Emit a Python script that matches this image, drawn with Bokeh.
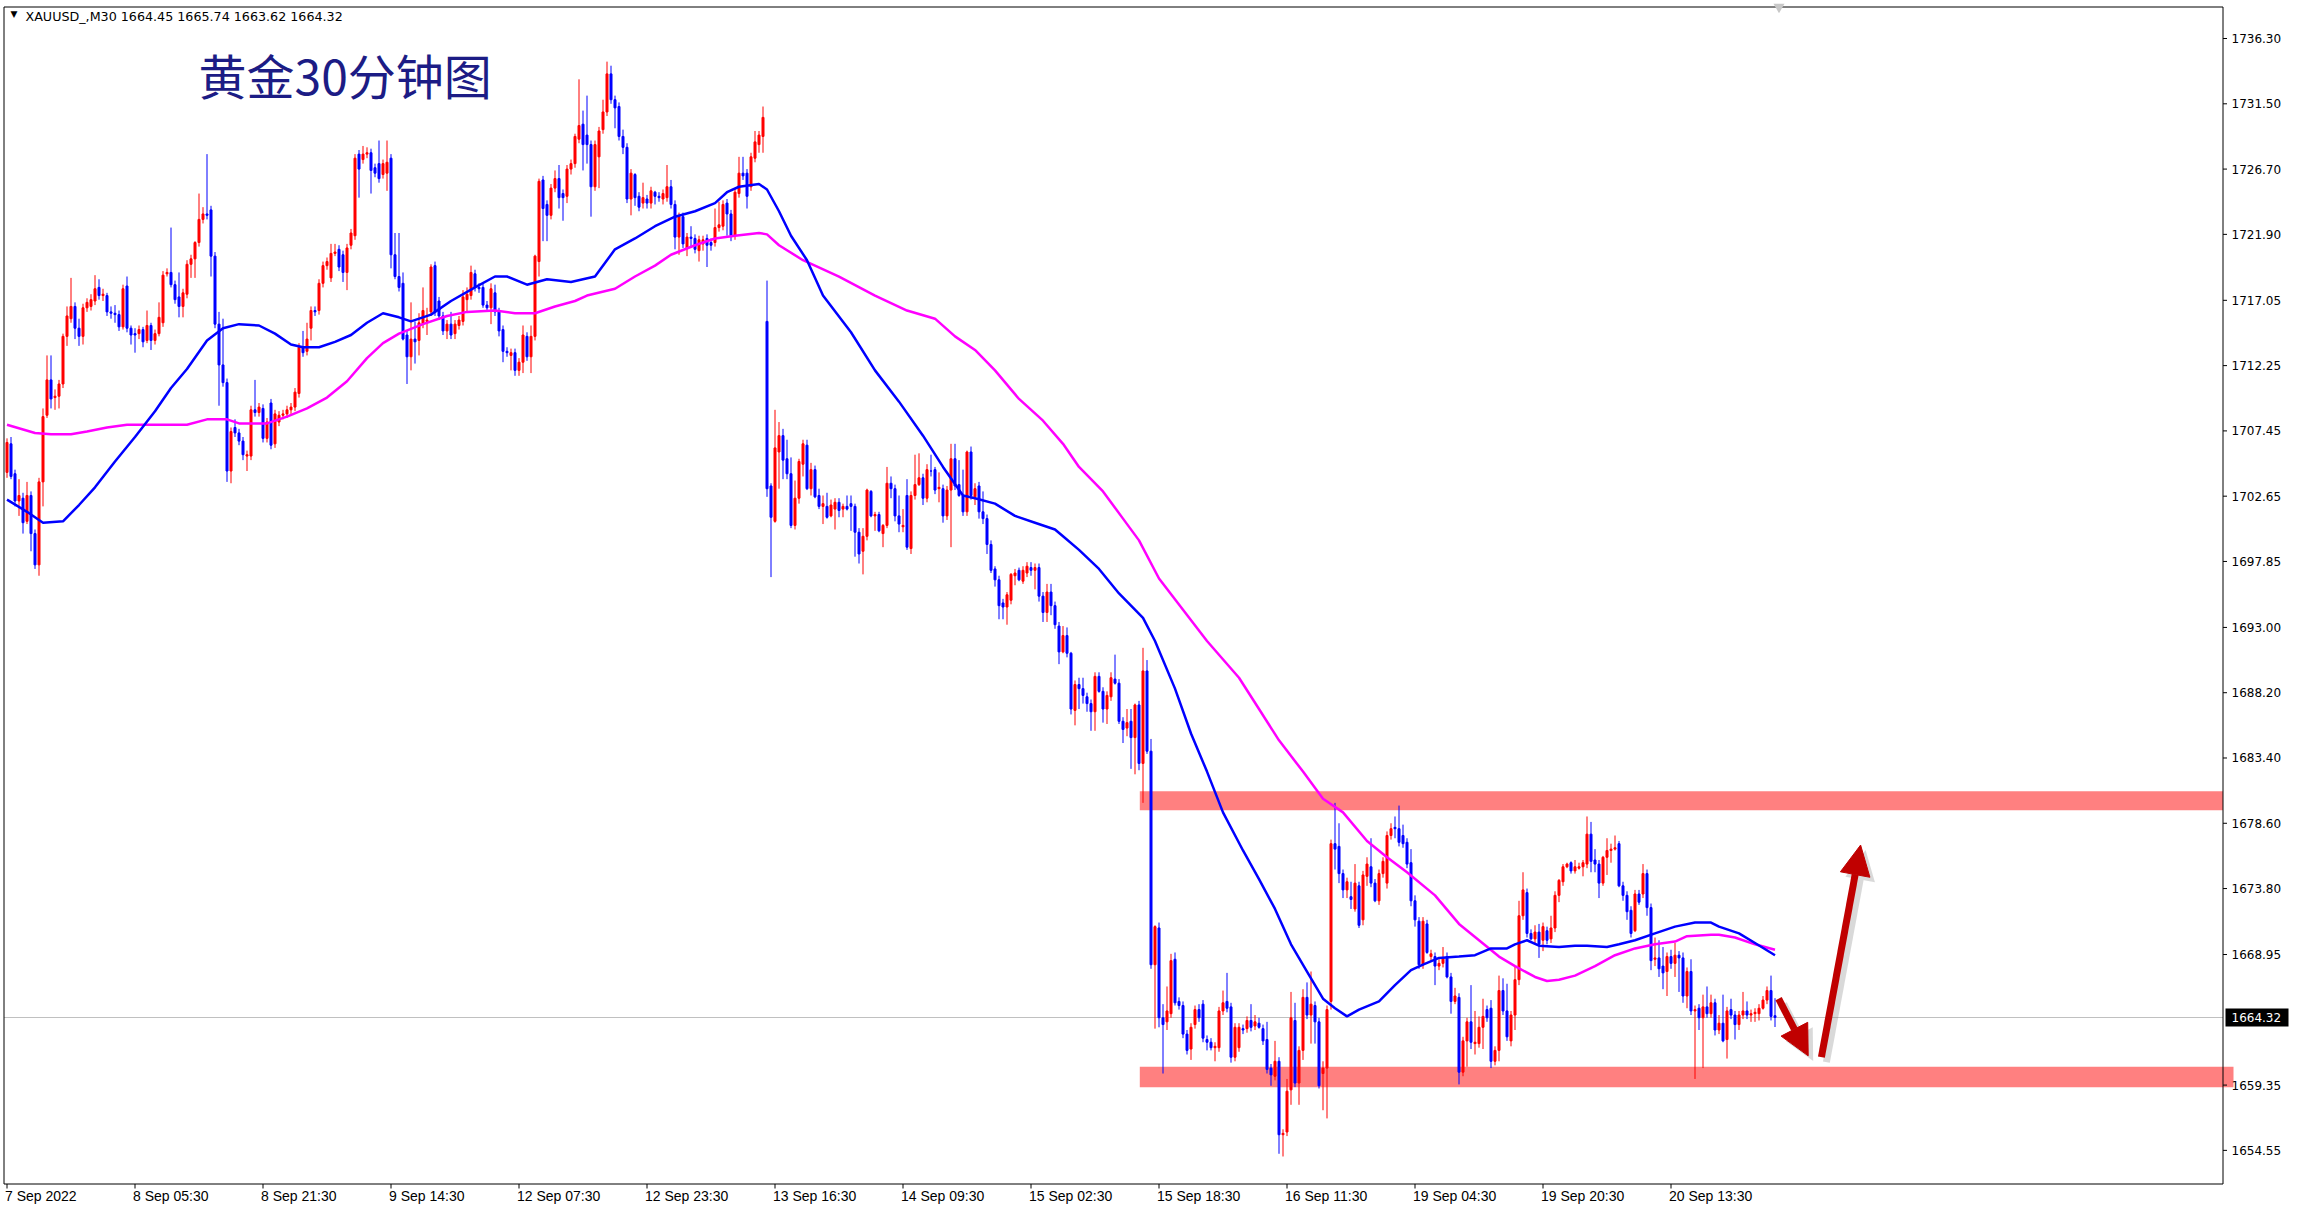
from bokeh.plotting import figure
from bokeh.models import Range1d, Label, Arrow, NormalHead, ColumnDataSource
from bokeh.core.properties import value
from bokeh.embed import file_html
from bokeh.resources import INLINE

symbol = "XAUUSD_,M30"
title_text = "黄金30分钟图"

opens = [
    1704.4, 1706.5, 1704.3, 1702.3, 1702.5, 1700.8, 1702.7, 1699.9, 1697.6, 1703.7,
    1708.6, 1711.2, 1709.9, 1710.0, 1710.9, 1714.4, 1715.7, 1716.6, 1715.0, 1714.4,
    1716.5, 1716.6, 1717.0, 1718.0, 1717.4, 1717.4, 1716.2, 1716.1, 1716.0, 1715.1,
    1718.1, 1715.0, 1714.6, 1714.6, 1714.9, 1714.1, 1715.2, 1714.1, 1714.6, 1715.4,
    1719.0, 1719.1, 1718.2, 1717.3, 1716.6, 1717.5, 1719.7, 1720.1, 1721.3, 1723.0,
    1723.4, 1723.7, 1720.3, 1715.3, 1712.3, 1711.0, 1704.5, 1707.7, 1707.3, 1706.7,
    1705.6, 1705.6, 1709.0, 1708.8, 1709.1, 1706.9, 1709.5, 1706.5, 1708.1, 1708.6,
    1708.7, 1709.0, 1709.2, 1710.2, 1713.6, 1713.3, 1715.0, 1716.3, 1716.3, 1718.3,
    1719.6, 1718.7, 1720.5, 1720.8, 1720.4, 1719.1, 1721.1, 1721.8, 1727.8, 1727.4,
    1727.8, 1727.9, 1726.8, 1727.1, 1726.3, 1726.4, 1727.5, 1720.4, 1718.8, 1718.3,
    1714.5, 1712.9, 1714.2, 1714.1, 1715.3, 1715.5, 1716.2, 1719.6, 1717.0, 1715.9,
    1714.8, 1715.3, 1714.6, 1715.2, 1715.5, 1717.1, 1717.4, 1719.0, 1718.0, 1718.0,
    1716.7, 1716.5, 1717.6, 1716.2, 1714.9, 1713.3, 1713.0, 1713.2, 1711.9, 1712.5,
    1714.4, 1712.9, 1714.4, 1719.9, 1725.9, 1724.1, 1723.3, 1725.3, 1726.0, 1724.9,
    1724.7, 1726.7, 1727.1, 1728.9, 1730.0, 1729.2, 1728.5, 1725.4, 1727.6, 1729.6,
    1730.9, 1733.7, 1731.8, 1731.3, 1729.1, 1728.3, 1724.5, 1726.3, 1724.7, 1724.2,
    1724.5, 1724.2, 1725.0, 1724.7, 1724.5, 1724.6, 1725.4, 1724.1, 1721.7, 1723.2,
    1720.9, 1721.7, 1721.6, 1720.7, 1721.2, 1721.6, 1721.3, 1721.3, 1722.4, 1722.5,
    1724.2, 1723.4, 1721.8, 1724.9, 1726.4, 1726.4, 1725.4, 1727.5, 1728.5, 1729.1,
    1715.5, 1703.4, 1700.8, 1705.9, 1707.1, 1705.4, 1704.3, 1700.5, 1702.5, 1705.0,
    1706.4, 1703.2, 1704.6, 1702.7, 1701.9, 1701.9, 1701.2, 1701.7, 1702.2, 1701.7,
    1701.9, 1702.1, 1701.9, 1700.0, 1698.6, 1699.7, 1703.0, 1701.2, 1701.3, 1699.9,
    1700.5, 1703.6, 1703.2, 1701.2, 1700.4, 1702.7, 1698.8, 1702.7, 1703.5, 1704.0,
    1702.5, 1704.5, 1704.6, 1703.2, 1703.2, 1701.2, 1703.1, 1705.4, 1703.5, 1702.7,
    1701.5, 1705.9, 1702.6, 1703.4, 1701.5, 1701.0, 1699.1, 1697.3, 1696.5, 1694.8,
    1694.5, 1695.0, 1696.8, 1697.2, 1696.4, 1697.0, 1697.4, 1697.2, 1697.4, 1695.3,
    1694.1, 1695.6, 1694.6, 1693.1, 1691.2, 1692.4, 1691.1, 1686.9, 1688.8, 1688.5,
    1687.9, 1687.4, 1686.8, 1689.4, 1688.3, 1687.0, 1687.9, 1689.2, 1688.9, 1686.1,
    1685.6, 1686.1, 1684.9, 1687.3, 1683.0, 1689.8, 1683.9, 1668.2, 1670.9, 1664.3,
    1664.0, 1664.6, 1668.6, 1665.5, 1665.2, 1663.1, 1662.0, 1663.8, 1664.9, 1665.3,
    1662.7, 1662.5, 1662.1, 1662.1, 1664.8, 1665.5, 1665.1, 1661.4, 1662.1, 1663.5,
    1663.5, 1664.1, 1663.7, 1663.9, 1663.5, 1662.7, 1660.6, 1660.0, 1661.1, 1655.7,
    1655.9, 1659.0, 1664.1, 1659.5, 1661.9, 1665.8, 1664.5, 1665.2, 1664.0, 1660.2,
    1660.6, 1665.5, 1677.1, 1676.9, 1674.9, 1673.7, 1673.2, 1672.3, 1674.0, 1671.5,
    1674.7, 1675.4, 1674.2, 1672.9, 1674.9, 1674.2, 1677.7, 1678.3, 1678.2, 1677.7,
    1677.2, 1675.7, 1672.9, 1671.4, 1668.2, 1671.2, 1668.8, 1668.8, 1668.1, 1668.3,
    1668.8, 1667.3, 1665.5, 1665.8, 1660.3, 1662.6, 1664.0, 1662.4, 1662.4, 1663.6,
    1664.9, 1665.0, 1661.1, 1661.9, 1666.3, 1664.8, 1662.6, 1664.5, 1667.1, 1671.8,
    1673.5, 1670.5, 1670.1, 1670.6, 1670.0, 1670.7, 1670.1, 1670.9, 1673.3, 1674.3,
    1675.4, 1675.7, 1675.1, 1675.3, 1675.4, 1675.6, 1677.8, 1675.9, 1675.6, 1674.2,
    1676.1, 1676.6, 1676.7, 1677.1, 1674.0, 1673.3, 1672.2, 1670.7, 1673.4, 1673.4,
    1674.9, 1672.4, 1668.6, 1668.7, 1668.1, 1667.7, 1668.8, 1668.3, 1668.9, 1668.7,
    1665.9, 1667.7, 1664.8, 1665.0, 1664.3, 1665.1, 1664.6, 1665.4, 1663.4, 1663.9,
    1662.7, 1664.9, 1664.5, 1663.8, 1664.5, 1664.8, 1664.5, 1664.6, 1664.6, 1665.0,
    1665.6, 1666.3, 1664.45,
]

highs = [
    1706.9, 1707.0, 1704.6, 1703.9, 1702.9, 1703.7, 1703.0, 1700.2, 1704.0, 1709.1,
    1713.0, 1713.0, 1710.5, 1711.2, 1714.6, 1716.6, 1718.7, 1716.9, 1715.7, 1716.8,
    1717.2, 1717.5, 1718.9, 1718.6, 1717.9, 1717.6, 1716.6, 1716.7, 1716.3, 1718.2,
    1718.8, 1715.2, 1715.0, 1715.2, 1715.1, 1716.3, 1715.4, 1714.9, 1716.9, 1719.2,
    1719.4, 1722.4, 1718.5, 1719.1, 1717.9, 1720.0, 1720.4, 1721.4, 1724.9, 1723.9,
    1727.8, 1724.0, 1720.6, 1716.2, 1715.7, 1711.3, 1707.7, 1708.3, 1707.6, 1707.0,
    1706.0, 1709.3, 1711.2, 1709.5, 1709.4, 1708.4, 1709.8, 1709.0, 1708.9, 1709.0,
    1709.3, 1709.5, 1710.6, 1713.9, 1714.8, 1715.4, 1716.6, 1716.6, 1718.6, 1719.9,
    1720.2, 1721.2, 1721.2, 1721.1, 1720.7, 1721.2, 1722.3, 1727.8, 1728.1, 1728.4,
    1728.3, 1728.2, 1727.1, 1728.8, 1727.4, 1728.8, 1727.8, 1722.0, 1722.0, 1719.1,
    1714.8, 1716.9, 1715.5, 1716.1, 1718.0, 1716.5, 1719.7, 1719.9, 1717.3, 1716.2,
    1715.6, 1716.2, 1715.6, 1715.9, 1717.8, 1718.0, 1719.6, 1719.3, 1718.3, 1718.3,
    1717.0, 1718.3, 1718.2, 1716.5, 1715.2, 1713.6, 1713.5, 1713.5, 1712.8, 1715.2,
    1714.7, 1715.2, 1720.4, 1726.0, 1726.2, 1724.4, 1725.6, 1726.6, 1727.0, 1725.2,
    1727.0, 1727.4, 1729.3, 1733.3, 1731.0, 1732.1, 1728.8, 1728.8, 1729.8, 1731.8,
    1734.6, 1734.3, 1732.1, 1731.6, 1729.6, 1728.6, 1726.7, 1726.4, 1725.0, 1725.7,
    1724.8, 1725.4, 1725.1, 1725.0, 1725.2, 1727.0, 1725.9, 1724.4, 1723.5, 1723.5,
    1722.0, 1722.5, 1721.9, 1721.8, 1721.8, 1721.9, 1721.6, 1723.8, 1724.3, 1724.4,
    1724.5, 1723.7, 1725.3, 1727.6, 1727.6, 1726.7, 1727.9, 1729.5, 1729.5, 1731.3,
    1718.5, 1703.6, 1709.0, 1708.1, 1707.6, 1706.8, 1705.5, 1703.8, 1705.4, 1706.8,
    1706.8, 1705.1, 1704.9, 1703.2, 1702.7, 1702.9, 1702.4, 1702.5, 1702.5, 1702.1,
    1702.7, 1702.7, 1702.1, 1700.3, 1700.3, 1703.2, 1703.1, 1701.5, 1701.5, 1700.6,
    1704.8, 1704.1, 1703.5, 1702.7, 1701.7, 1703.9, 1703.0, 1705.7, 1705.8, 1704.3,
    1705.0, 1705.7, 1704.8, 1704.4, 1703.5, 1703.4, 1706.5, 1706.5, 1705.3, 1704.6,
    1706.0, 1706.3, 1703.6, 1703.7, 1703.0, 1701.3, 1699.4, 1697.5, 1696.8, 1695.1,
    1695.6, 1697.0, 1697.3, 1697.4, 1697.5, 1697.8, 1697.8, 1697.7, 1697.7, 1695.6,
    1696.2, 1696.2, 1694.9, 1693.4, 1693.1, 1693.0, 1691.2, 1689.1, 1689.3, 1689.3,
    1688.2, 1687.7, 1689.7, 1689.7, 1688.6, 1688.3, 1689.7, 1691.0, 1689.2, 1686.4,
    1687.0, 1687.0, 1687.4, 1687.6, 1691.5, 1690.6, 1684.8, 1671.1, 1671.3, 1665.3,
    1666.6, 1669.0, 1669.1, 1665.8, 1665.5, 1663.4, 1663.9, 1665.2, 1665.3, 1665.6,
    1663.0, 1662.8, 1662.5, 1665.1, 1666.3, 1667.6, 1665.4, 1663.9, 1663.9, 1663.8,
    1664.4, 1665.3, 1664.5, 1664.3, 1663.8, 1664.0, 1660.9, 1662.6, 1661.4, 1656.1,
    1659.8, 1666.2, 1665.4, 1662.2, 1666.4, 1666.9, 1667.7, 1665.5, 1664.3, 1661.1,
    1665.2, 1677.4, 1680.1, 1678.6, 1675.2, 1674.6, 1674.3, 1675.6, 1674.3, 1675.1,
    1676.1, 1677.5, 1674.5, 1675.2, 1676.1, 1678.0, 1678.6, 1679.1, 1679.9, 1678.5,
    1677.5, 1676.7, 1673.3, 1671.7, 1671.7, 1671.5, 1669.3, 1669.1, 1668.6, 1669.5,
    1669.1, 1667.6, 1666.5, 1666.1, 1662.9, 1664.3, 1666.7, 1664.8, 1664.4, 1665.7,
    1665.2, 1665.6, 1662.2, 1667.4, 1667.2, 1666.8, 1664.8, 1668.1, 1672.9, 1675.0,
    1673.8, 1670.8, 1671.1, 1671.2, 1671.3, 1671.0, 1671.8, 1673.6, 1674.5, 1675.6,
    1675.7, 1675.8, 1675.9, 1675.7, 1675.9, 1679.1, 1678.7, 1676.7, 1675.9, 1676.2,
    1677.5, 1677.1, 1677.7, 1677.3, 1674.3, 1673.6, 1672.5, 1673.7, 1673.7, 1675.6,
    1675.2, 1672.7, 1670.2, 1670.0, 1669.5, 1669.1, 1669.3, 1669.8, 1669.2, 1669.1,
    1668.0, 1668.6, 1665.2, 1665.3, 1666.0, 1666.6, 1666.0, 1665.7, 1664.5, 1666.0,
    1665.1, 1665.7, 1664.8, 1664.8, 1666.2, 1665.5, 1664.9, 1665.0, 1665.3, 1665.9,
    1666.6, 1667.4, 1665.74,
]

lows = [
    1704.0, 1703.9, 1701.9, 1701.2, 1699.9, 1700.6, 1698.6, 1697.3, 1696.8, 1701.9,
    1708.4, 1709.1, 1709.0, 1709.1, 1710.6, 1713.7, 1715.4, 1714.2, 1713.7, 1713.8,
    1716.2, 1716.3, 1716.7, 1717.1, 1717.0, 1715.9, 1715.7, 1715.4, 1714.8, 1714.9,
    1714.7, 1713.8, 1713.2, 1714.2, 1713.6, 1713.9, 1713.4, 1713.8, 1714.4, 1715.1,
    1718.8, 1718.0, 1716.8, 1715.8, 1715.8, 1717.2, 1718.7, 1718.7, 1721.0, 1722.7,
    1723.0, 1718.8, 1715.0, 1709.3, 1710.7, 1703.7, 1703.6, 1707.0, 1706.4, 1705.3,
    1704.5, 1705.3, 1708.5, 1708.5, 1706.6, 1706.6, 1706.1, 1706.2, 1707.8, 1708.3,
    1708.4, 1708.7, 1708.9, 1709.9, 1712.9, 1713.0, 1714.1, 1715.9, 1716.0, 1718.0,
    1719.3, 1718.4, 1720.3, 1719.2, 1718.4, 1717.8, 1720.8, 1721.5, 1724.6, 1727.1,
    1727.5, 1724.9, 1726.1, 1725.7, 1726.0, 1725.1, 1719.4, 1718.6, 1717.7, 1714.1,
    1710.9, 1711.9, 1712.4, 1713.0, 1715.0, 1714.5, 1715.9, 1715.9, 1715.6, 1714.5,
    1714.2, 1714.2, 1714.2, 1714.9, 1715.2, 1716.2, 1717.1, 1717.7, 1717.6, 1716.5,
    1716.2, 1715.3, 1715.9, 1714.4, 1712.5, 1712.9, 1711.9, 1711.5, 1711.5, 1711.7,
    1712.6, 1711.7, 1714.1, 1718.8, 1721.4, 1721.4, 1723.0, 1725.0, 1723.8, 1722.9,
    1724.2, 1726.3, 1726.8, 1728.6, 1726.6, 1727.1, 1723.2, 1725.1, 1725.3, 1729.3,
    1730.6, 1731.5, 1729.7, 1728.8, 1727.8, 1724.2, 1723.3, 1724.0, 1723.6, 1723.8,
    1723.8, 1723.8, 1724.1, 1724.3, 1724.1, 1724.3, 1723.8, 1720.8, 1720.4, 1720.9,
    1720.3, 1720.9, 1720.5, 1719.9, 1720.7, 1719.5, 1720.7, 1721.0, 1722.1, 1722.2,
    1721.8, 1721.4, 1721.5, 1724.6, 1725.9, 1723.8, 1725.1, 1727.2, 1727.9, 1727.9,
    1702.6, 1696.7, 1700.7, 1703.2, 1703.9, 1703.9, 1700.3, 1700.2, 1702.1, 1704.1,
    1703.1, 1702.7, 1702.5, 1701.7, 1700.6, 1701.0, 1701.1, 1700.2, 1701.1, 1701.1,
    1701.6, 1700.1, 1698.2, 1697.7, 1696.9, 1699.4, 1701.1, 1700.1, 1700.0, 1698.9,
    1700.3, 1702.5, 1700.8, 1700.0, 1700.0, 1698.7, 1698.4, 1702.4, 1703.4, 1702.0,
    1702.2, 1704.1, 1702.8, 1702.2, 1700.7, 1700.9, 1698.9, 1703.1, 1702.6, 1701.2,
    1701.2, 1702.4, 1702.0, 1701.0, 1700.6, 1698.4, 1697.0, 1696.0, 1693.6, 1693.6,
    1693.2, 1694.7, 1696.1, 1696.4, 1696.2, 1696.7, 1696.8, 1695.8, 1694.9, 1693.4,
    1693.4, 1693.9, 1692.9, 1690.3, 1691.1, 1690.8, 1686.6, 1685.8, 1687.0, 1687.4,
    1686.8, 1685.4, 1685.4, 1688.2, 1686.0, 1685.9, 1687.6, 1688.8, 1685.9, 1684.5,
    1685.0, 1682.6, 1682.2, 1682.5, 1680.1, 1683.7, 1667.9, 1663.5, 1663.6, 1660.2,
    1663.4, 1664.3, 1665.2, 1664.9, 1662.8, 1661.6, 1661.2, 1663.5, 1664.0, 1662.5,
    1661.9, 1661.9, 1661.1, 1661.8, 1664.5, 1664.7, 1661.0, 1661.1, 1661.8, 1663.1,
    1663.2, 1663.3, 1663.4, 1663.5, 1662.3, 1660.2, 1659.3, 1659.7, 1654.3, 1654.1,
    1655.6, 1657.9, 1659.2, 1657.9, 1661.2, 1664.2, 1662.4, 1662.4, 1659.1, 1657.5,
    1656.9, 1664.9, 1675.2, 1674.2, 1673.1, 1673.1, 1672.3, 1672.1, 1670.9, 1671.1,
    1674.0, 1673.9, 1672.8, 1672.6, 1674.6, 1673.8, 1677.4, 1677.5, 1676.9, 1676.8,
    1675.3, 1672.5, 1671.0, 1667.9, 1667.9, 1669.0, 1668.5, 1666.7, 1667.8, 1668.0,
    1667.2, 1664.6, 1665.3, 1659.4, 1660.0, 1660.7, 1662.0, 1661.6, 1662.1, 1662.0,
    1664.0, 1660.6, 1660.8, 1661.1, 1664.5, 1662.6, 1662.2, 1663.4, 1666.7, 1671.5,
    1670.2, 1670.0, 1669.7, 1668.7, 1669.2, 1669.7, 1669.8, 1670.6, 1672.8, 1674.0,
    1675.3, 1674.9, 1674.9, 1675.2, 1674.7, 1675.3, 1675.0, 1675.0, 1673.1, 1674.0,
    1674.8, 1675.7, 1676.6, 1673.9, 1672.9, 1671.5, 1670.2, 1670.6, 1672.6, 1673.1,
    1671.8, 1667.8, 1668.1, 1667.3, 1666.4, 1665.9, 1667.9, 1667.3, 1666.2, 1665.4,
    1665.0, 1664.5, 1659.8, 1663.4, 1660.6, 1664.3, 1664.3, 1663.0, 1663.1, 1662.5,
    1661.3, 1664.2, 1662.7, 1663.4, 1664.2, 1664.2, 1664.0, 1664.0, 1664.1, 1664.9,
    1665.3, 1664.1, 1663.62,
]

closes = [
    1706.6, 1704.1, 1702.3, 1702.7, 1700.7, 1702.7, 1699.9, 1697.6, 1703.7, 1708.5,
    1711.2, 1709.8, 1710.0, 1710.9, 1714.4, 1715.9, 1716.6, 1715.0, 1714.4, 1716.5,
    1716.9, 1717.1, 1717.9, 1717.4, 1717.5, 1716.2, 1716.1, 1716.0, 1715.1, 1717.9,
    1715.0, 1714.5, 1714.5, 1714.9, 1714.0, 1715.2, 1714.1, 1714.6, 1715.8, 1718.9,
    1719.1, 1718.2, 1717.1, 1716.6, 1717.6, 1719.7, 1720.1, 1721.3, 1723.0, 1723.4,
    1723.3, 1720.3, 1715.3, 1712.3, 1711.0, 1704.5, 1707.4, 1707.3, 1706.7, 1705.7,
    1705.7, 1709.0, 1708.8, 1709.2, 1706.9, 1708.1, 1706.4, 1708.7, 1708.6, 1708.7,
    1709.0, 1709.2, 1710.3, 1713.6, 1713.2, 1714.2, 1716.3, 1716.2, 1718.3, 1719.6,
    1719.9, 1720.5, 1720.6, 1719.5, 1719.1, 1720.9, 1722.0, 1727.5, 1726.7, 1727.8,
    1727.9, 1726.6, 1726.4, 1726.0, 1727.1, 1727.2, 1720.4, 1718.8, 1718.0, 1714.2,
    1712.9, 1714.2, 1714.0, 1715.4, 1716.3, 1715.6, 1719.5, 1716.2, 1715.9, 1714.8,
    1715.3, 1714.5, 1715.3, 1715.6, 1717.3, 1717.5, 1719.1, 1718.0, 1717.9, 1716.7,
    1716.5, 1717.9, 1716.2, 1714.8, 1713.3, 1713.2, 1713.2, 1711.9, 1712.5, 1714.5,
    1712.9, 1714.4, 1720.3, 1725.8, 1723.8, 1723.3, 1725.3, 1726.0, 1724.6, 1724.6,
    1726.7, 1727.1, 1729.1, 1729.9, 1728.5, 1728.5, 1725.4, 1728.5, 1729.5, 1730.9,
    1733.7, 1731.8, 1731.2, 1729.1, 1728.3, 1724.5, 1726.4, 1724.6, 1723.9, 1724.6,
    1724.2, 1725.1, 1724.7, 1724.6, 1724.9, 1725.4, 1724.1, 1721.7, 1723.2, 1721.2,
    1721.7, 1721.6, 1720.8, 1721.5, 1721.5, 1721.1, 1721.1, 1722.4, 1722.6, 1724.1,
    1723.4, 1721.8, 1725.0, 1726.4, 1726.2, 1724.7, 1727.6, 1728.7, 1729.2, 1730.5,
    1703.2, 1701.1, 1706.2, 1707.1, 1705.3, 1704.3, 1700.5, 1702.5, 1705.2, 1706.5,
    1703.2, 1704.6, 1702.6, 1701.9, 1702.1, 1701.1, 1702.0, 1702.2, 1701.6, 1701.9,
    1701.7, 1701.9, 1700.0, 1698.4, 1699.7, 1703.1, 1701.2, 1701.3, 1700.1, 1700.5,
    1703.6, 1703.2, 1701.2, 1700.6, 1700.5, 1698.9, 1702.7, 1703.5, 1704.0, 1702.5,
    1704.6, 1704.5, 1703.1, 1703.3, 1701.2, 1703.1, 1705.4, 1703.4, 1702.7, 1701.5,
    1705.9, 1702.7, 1703.2, 1701.5, 1701.0, 1699.1, 1697.2, 1696.5, 1694.6, 1694.5,
    1695.4, 1696.9, 1697.0, 1696.5, 1697.2, 1697.5, 1697.2, 1697.4, 1695.3, 1694.1,
    1695.6, 1694.6, 1693.2, 1691.2, 1692.4, 1691.1, 1687.0, 1688.8, 1688.5, 1688.0,
    1687.4, 1686.8, 1689.4, 1688.3, 1687.0, 1688.0, 1689.3, 1688.9, 1686.1, 1685.5,
    1686.0, 1684.9, 1687.3, 1683.0, 1689.8, 1683.9, 1668.2, 1671.0, 1664.3, 1663.8,
    1664.8, 1668.5, 1665.4, 1665.2, 1663.1, 1661.9, 1663.6, 1664.9, 1664.3, 1662.8,
    1662.5, 1662.1, 1662.2, 1664.8, 1665.4, 1665.0, 1661.4, 1663.6, 1663.6, 1663.4,
    1664.1, 1663.6, 1664.0, 1663.6, 1662.6, 1660.5, 1660.1, 1661.1, 1655.7, 1655.8,
    1658.9, 1664.3, 1659.5, 1661.9, 1665.8, 1664.5, 1665.3, 1664.0, 1659.3, 1660.6,
    1664.9, 1677.1, 1676.7, 1674.9, 1673.7, 1674.3, 1673.0, 1674.2, 1671.1, 1674.8,
    1675.6, 1674.2, 1672.9, 1674.9, 1675.8, 1677.7, 1678.2, 1678.2, 1677.2, 1677.1,
    1675.6, 1672.9, 1671.5, 1668.2, 1671.4, 1669.1, 1669.0, 1668.1, 1668.3, 1668.7,
    1667.3, 1665.5, 1665.9, 1660.3, 1662.6, 1664.0, 1662.5, 1662.5, 1663.6, 1664.4,
    1664.3, 1661.1, 1661.9, 1666.3, 1664.8, 1662.9, 1664.5, 1667.1, 1671.8, 1673.7,
    1670.5, 1670.1, 1670.6, 1669.7, 1671.0, 1670.0, 1670.9, 1673.3, 1674.4, 1675.4,
    1675.6, 1675.1, 1675.4, 1675.4, 1675.7, 1677.8, 1675.8, 1675.6, 1674.2, 1676.1,
    1676.6, 1676.7, 1676.8, 1674.0, 1673.3, 1672.1, 1670.5, 1673.4, 1672.8, 1674.9,
    1672.4, 1668.5, 1668.7, 1667.9, 1667.6, 1668.8, 1668.3, 1668.9, 1668.7, 1665.9,
    1667.7, 1664.8, 1664.9, 1664.3, 1665.1, 1664.6, 1665.4, 1663.4, 1663.9, 1662.6,
    1664.8, 1664.5, 1663.8, 1664.5, 1664.8, 1664.5, 1664.6, 1664.7, 1665.0, 1665.6,
    1666.3, 1664.4, 1664.32,
]

assert len(opens) == len(highs) == len(lows) == len(closes), (
    len(opens), len(highs), len(lows), len(closes))

# moving averages (bar index, price)
blue_ma_bar = [0, 5, 9, 14, 18, 22, 27, 32, 37, 41, 45, 50, 54, 58, 63, 67, 71, 74, 78, 82,
               86, 90, 94, 98, 101, 106, 111, 117, 122, 125, 130, 135, 141, 147, 152, 157,
               162, 167, 172, 177, 180, 183, 188, 190, 193, 196, 200, 204, 211, 217, 223,
               229, 234, 239, 242, 247, 252, 257, 262, 264, 268, 273, 278, 284, 287, 292,
               296, 300, 304, 309, 313, 317, 321, 325, 329, 332, 335, 338, 343, 347, 351,
               354, 358, 363, 367, 371, 375, 377, 380, 383, 388, 392, 395, 400, 403, 407,
               412, 417, 422, 426, 428, 433, 437, 442]
blue_ma_val = [1702.4, 1701.5, 1700.7, 1700.8, 1702.0, 1703.3, 1705.2, 1707.0, 1708.9, 1710.6,
               1712.0, 1714.1, 1715.0, 1715.3, 1715.2, 1714.6, 1713.8, 1713.6, 1713.6, 1714.0,
               1714.5, 1715.4, 1716.1, 1715.8, 1715.5, 1716.0, 1717.0, 1718.0, 1718.8, 1718.8,
               1718.2, 1718.6, 1718.4, 1718.8, 1720.8, 1721.6, 1722.5, 1723.2, 1723.6, 1724.2,
               1725.0, 1725.4, 1725.6, 1725.2, 1723.6, 1721.8, 1720.0, 1717.4, 1714.7, 1711.9,
               1709.6, 1707.1, 1704.8, 1702.7, 1702.5, 1702.1, 1701.2, 1700.7, 1700.2, 1699.7,
               1698.7, 1697.3, 1695.5, 1693.7, 1692.0, 1688.5, 1685.2, 1682.4, 1679.4, 1676.6,
               1674.5, 1672.3, 1669.7, 1667.7, 1665.7, 1665.0, 1664.4, 1664.9, 1665.5, 1666.7,
               1667.8, 1668.2, 1668.7, 1668.8, 1668.9, 1669.4, 1669.4, 1669.7, 1670.0, 1669.6,
               1669.5, 1669.6, 1669.6, 1669.5, 1669.7, 1670.0, 1670.5, 1671.0, 1671.3, 1671.3,
               1671.0, 1670.5, 1669.8, 1668.9]
magenta_ma_bar = [0, 7, 11, 16, 20, 25, 30, 35, 40, 45, 50, 55, 58, 65, 70, 75, 80, 85, 90, 94,
                  98, 104, 110, 115, 122, 127, 132, 137, 142, 145, 152, 157, 162, 166, 172,
                  177, 182, 188, 190, 193, 199, 208, 217, 225, 232, 237, 242, 247, 253, 259,
                  264, 268, 274, 279, 283, 288, 300, 308, 313, 318, 324, 329, 334, 340, 345,
                  350, 357, 363, 368, 373, 377, 382, 385, 388, 392, 397, 402, 407, 412, 417,
                  420, 426, 428, 432, 437, 442]
magenta_ma_val = [1707.9, 1707.3, 1707.2, 1707.2, 1707.4, 1707.7, 1707.9, 1707.9, 1707.9, 1707.9,
                  1708.3, 1708.3, 1708.0, 1708.0, 1708.5, 1709.1, 1709.9, 1711.1, 1712.8, 1713.9,
                  1714.6, 1715.3, 1715.9, 1716.2, 1716.3, 1716.1, 1716.1, 1716.6, 1717.0, 1717.4,
                  1717.9, 1718.8, 1719.6, 1720.4, 1721.1, 1721.6, 1721.8, 1722.0, 1721.9, 1721.1,
                  1720.0, 1718.8, 1717.4, 1716.3, 1715.7, 1714.4, 1713.4, 1711.9, 1709.8, 1708.2,
                  1706.5, 1704.8, 1703.0, 1701.0, 1699.4, 1696.6, 1692.0, 1689.3, 1687.0, 1684.7,
                  1682.4, 1680.4, 1679.4, 1677.3, 1676.1, 1675.0, 1673.3, 1671.2, 1670.0, 1668.8,
                  1668.1, 1667.3, 1667.0, 1667.1, 1667.4, 1668.1, 1668.9, 1669.4, 1669.7, 1669.9,
                  1670.3, 1670.4, 1670.4, 1670.2, 1669.7, 1669.3]

tick_bars = [0, 32, 64, 96, 128, 160, 192, 224, 256, 288, 320, 352, 384, 416]
tick_labels = ["7 Sep 2022", "8 Sep 05:30", "8 Sep 21:30", "9 Sep 14:30", "12 Sep 07:30",
               "12 Sep 23:30", "13 Sep 16:30", "14 Sep 09:30", "15 Sep 02:30",
               "15 Sep 18:30", "16 Sep 11:30", "19 Sep 04:30", "19 Sep 20:30", "20 Sep 13:30"]
price_ticks = [1736.30, 1731.50, 1726.70, 1721.90, 1717.05, 1712.25, 1707.45, 1702.65,
               1697.85, 1693.00, 1688.20, 1683.40, 1678.60, 1673.80, 1668.95, 1659.35, 1654.55]

resistance_zone = (1679.55, 1680.95)
support_zone = (1659.2, 1660.7)
zone_start_bar = 283.2
down_arrow = (442.9, 1665.7, 450.3, 1661.5)
up_arrow = (453.6, 1661.4, 463.4, 1677.0)

# ---- canvas geometry (the plot frame covers the whole canvas; MT4-style frame drawn inside)
W, H = 2295, 1208
x_start, x_end = -1.625, 572.125
y_low, y_high = 1650.276, 1739.095
px_x = (x_end - x_start) / W
px_y = (y_high - y_low) / H
border_left = x_start + 3.5 * px_x
border_right = x_start + 2222.5 * px_x
border_top = y_high - 6.5 * px_y
border_bottom = y_high - 1183.5 * px_y

n = len(closes)
last_price = closes[-1]
BULL, BEAR = "#FF0000", "#0000FF"
src = ColumnDataSource(dict(
    x=list(range(n)),
    top=[max(o, c) for o, c in zip(opens, closes)],
    bottom=[min(o, c) for o, c in zip(opens, closes)],
    hi=[max(h, o, c) for h, o, c in zip(highs, opens, closes)],
    lo=[min(l, o, c) for l, o, c in zip(lows, opens, closes)],
    color=[BULL if c > o else BEAR for o, c in zip(opens, closes)],
))

p = figure(width=W, height=H, x_range=Range1d(x_start, x_end),
           y_range=Range1d(y_low, y_high), x_axis_location=None, y_axis_location=None,
           toolbar_location=None, output_backend="svg",
           min_border_left=0, min_border_top=0, min_border_right=0, min_border_bottom=0)
p.background_fill_color = "white"
p.border_fill_color = "white"
p.outline_line_color = None
p.xgrid.grid_line_color = None
p.ygrid.grid_line_color = None

# zones
p.quad(left=[zone_start_bar, zone_start_bar],
       right=[x_start + 2233 * px_x, border_right],
       bottom=[support_zone[0], resistance_zone[0]], top=[support_zone[1], resistance_zone[1]],
       fill_color="#FF8080", line_color=None)

# current price line
p.segment(x0=[border_left], y0=[last_price], x1=[border_right], y1=[last_price],
          line_color="#C0C0C0", line_width=1)

# candles
p.segment(x0="x", y0="lo", x1="x", y1="hi", line_color="color", line_width=1, source=src)
p.vbar(x="x", width=0.5, top="top", bottom="bottom", fill_color="color",
       line_color="color", line_width=1, source=src)

# moving averages
p.line(magenta_ma_bar, magenta_ma_val, line_color="#FF00FF", line_width=2.5)
p.line(blue_ma_bar, blue_ma_val, line_color="#0000FF", line_width=2.5)

# chart frame
p.line(x=[border_left, border_right, border_right, border_left, border_left],
       y=[border_bottom, border_bottom, border_top, border_top, border_bottom],
       line_color="black", line_width=1)

# chart shift marker
p.scatter(x=[n], y=[border_top], marker="inverted_triangle", size=11,
          fill_color="#C8C8C8", line_color=None)

# price scale (right)
p.segment(x0=[border_right] * len(price_ticks), y0=price_ticks,
          x1=[border_right + 4 * px_x] * len(price_ticks), y1=price_ticks,
          line_color="black", line_width=1)
p.text(x=[x_start + 2231 * px_x] * len(price_ticks), y=price_ticks,
       text=["%.2f" % t for t in price_ticks], text_font=value("DejaVu Sans"),
       text_font_size=value("12px"), text_align="left", text_baseline="middle",
       text_color="black")
p.quad(left=[x_start + 2225 * px_x], right=[x_start + 2288 * px_x],
       bottom=[last_price - 9 * px_y], top=[last_price + 9 * px_y],
       fill_color="black", line_color=None)
p.text(x=[x_start + 2231 * px_x], y=[last_price], text=["%.2f" % last_price],
       text_font=value("DejaVu Sans"), text_font_size=value("12px"), text_align="left",
       text_baseline="middle", text_color="white")

# time scale (bottom)
p.segment(x0=tick_bars, y0=[border_bottom] * len(tick_bars),
          x1=tick_bars, y1=[border_bottom - 4.5 * px_y] * len(tick_bars),
          line_color="black", line_width=1)
p.text(x=tick_bars, y=[y_high - 1195 * px_y] * len(tick_bars), text=tick_labels,
       x_offset=-2, text_font=value("Liberation Sans"), text_font_size=value("14px"),
       text_align="left", text_baseline="middle", text_color="black")

# arrows (soft shadow first, then the arrow)
for (xs, ys, xe, ye) in (down_arrow, up_arrow):
    p.add_layout(Arrow(end=NormalHead(size=30, fill_color="#808080", fill_alpha=0.3,
                                      line_color=None),
                       x_start=xs + 1.25, y_start=ys - 0.37, x_end=xe + 1.25, y_end=ye - 0.37,
                       line_color="#808080", line_alpha=0.3, line_width=7))
    p.add_layout(Arrow(end=NormalHead(size=30, fill_color="#C00000", line_color="#C00000",
                                      line_width=1),
                       x_start=xs, y_start=ys, x_end=xe, y_end=ye,
                       line_color="#C00000", line_width=7))

# header and title
p.add_layout(Label(x=1.75, y=1738.07, text="▼", text_font="DejaVu Sans",
                   text_font_size="9px", text_align="center", text_baseline="middle",
                   text_color="black"))
header = "%s  %.2f %.2f %.2f %.2f" % (symbol, opens[-1], highs[-1], lows[-1], closes[-1])
p.add_layout(Label(x=4.625, y=1737.92, text=header, text_font="DejaVu Sans",
                   text_font_size="12.7px", text_baseline="middle", text_color="black"))
p.add_layout(Label(x=47.875, y=1736.27, text=title_text, text_font="Noto Sans CJK SC",
                   text_font_size="48px", text_baseline="top", text_color="#1C1C85"))

open("out.html", "w").write(file_html(p, INLINE))
